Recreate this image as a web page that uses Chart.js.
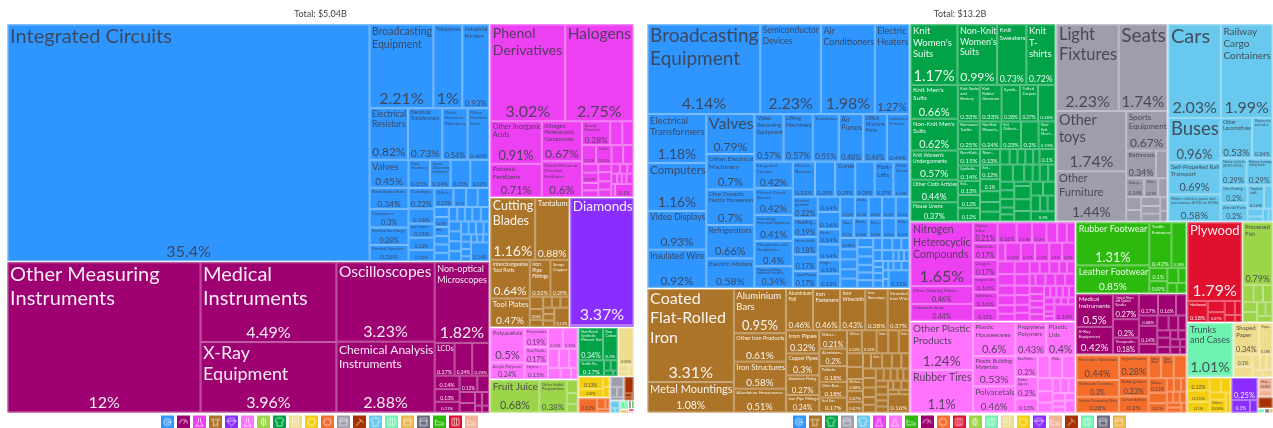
<!DOCTYPE html>
<html>
<head>
<meta charset="utf-8">
<title>Export treemaps</title>
<script src="https://cdn.jsdelivr.net/npm/chart.js@4/dist/chart.umd.js"></script>
<style>
  html, body { margin: 0; background: #fff; overflow: hidden; }
  #page { position: relative; width: 1273px; height: 428px; overflow: hidden; }
  canvas { position: absolute; top: 0; }
</style>
</head>
<body>
<div id="page">
  <canvas id="left-tree" style="left:7px"></canvas>
  <canvas id="right-tree" style="left:647px"></canvas>
</div>
<script>
const leftTotal = "Total: $5.04B";
const rightTotal = "Total: $13.2B";

// left panel, share of total in % (small cells are estimates)
const leftMachinesLabels = ["Integrated Circuits", "Broadcasting Equipment", "Telephones", "Industrial Printers", "Electrical Resistors", "Electrical Transformers", "Other Electrical Machinery", "Office Machine Parts", "Valves", "Blank Audio Media", "Computers", "Electrical Interchange", "Electrical Capacitors", "Dairy Machinery", "Liquid Dispensing Machines", "", "", "Centrifuges", "Video Recording...", "Gas Turbines", "Metalworking...", "Semiconducting...", "Other...", "", "", "", "", "Lifting...", "Ext..."];
const leftMachinesValues = [35.4, 2.21, 1, 0.93, 0.82, 0.73, 0.54, 0.46, 0.45, 0.34, 0.3, 0.28, 0.26, 0.25, 0.24, 0.23, 0.22, 0.22, 0.16, 0.15, 0.13, 0.12, 0.15, 0.1, 0.09, 0.09, 0.06, 0.06, 0.055, 0.05, 0.05, 0.05, 0.05, 0.045, 0.045, 0.05, 0.05, 0.05, 0.05, 0.05, 0.05, 0.04, 0.04, 0.04, 0.03, 0.03, 0.03, 0.03, 0.02, 0.02, 0.02, 0.02, 0.14];
const leftInstrumentsLabels = ["Other Measuring Instruments", "Medical Instruments", "X-Ray Equipment", "Oscilloscopes", "Chemical Analysis Instruments", "Non-optical Microscopes", "LCDs", "", "", "Optical Fibers...", "Textile Testing...", "Mirrors and..."];
const leftInstrumentsValues = [12, 4.49, 3.96, 3.23, 2.88, 1.82, 0.27, 0.24, 0.23, 0.14, 0.13, 0.11, 0.12, 0.08, 0.07, 0.06, 0.04, 0.04, 0.02, 0.02];
const leftChemicalsLabels = ["Phenol Derivatives", "Halogens", "Other Inorganic Acids", "Potassic Fertilizers", "Nitrogen Heterocyclic Compounds", "Mixed Mineral or Chemical Fertilizers", "Beauty Products", "", "", "", "Other...", "", "", "", "Inl..."];
const leftChemicalsValues = [3.02, 2.75, 0.91, 0.71, 0.67, 0.6, 0.28, 0.12, 0.11, 0.11, 0.12, 0.09, 0.08, 0.06, 0.07, 0.05, 0.045, 0.045, 0.05, 0.045, 0.04, 0.035, 0.03, 0.025, 0.025, 0.02, 0.02, 0.03, 0.02, 0.1];
const leftMetalsLabels = ["Cutting Blades", "Tantalum", "Interchangeable Tool Parts", "Tool Plates", "Iron Pipe Fittings", "Scrap Copper", "", "Temp..."];
const leftMetalsValues = [1.16, 0.88, 0.64, 0.47, 0.32, 0.29, 0.07, 0.06, 0.04, 0.04, 0.04, 0.04, 0.03, 0.03, 0.03, 0.12];
const leftPreciousLabels = ["Diamonds"];
const leftPreciousValues = [3.37, 0.05];
const leftPlasticsLabels = ["Polyacetals", "Acrylic Polymers", "Polyamides", "Raw Plastic...", "Ethylene...", "", "", "Other..."];
const leftPlasticsValues = [0.5, 0.24, 0.19, 0.17, 0.15, 0.13, 0.13, 0.09, 0.08, 0.07, 0.06, 0.05, 0.03];
const leftVegetableLabels = ["Fruit Juice", "Other Edible Preparations"];
const leftVegetableValues = [0.68, 0.38, 0.06, 0.05, 0.04];
const leftTextilesLabels = ["Non-Retail Synthetic Filament Yarn", "Raw Cotton", "Textile Fa..."];
const leftTextilesValues = [0.34, 0.2, 0.17, 0.03, 0.03, 0.02, 0.01];
const leftPaperValues = [0.25, 0.03, 0.02, 0.02];
const leftFoodstuffsLabels = ["Citrus", "Soybean..."];
const leftFoodstuffsValues = [0.13, 0.09, 0.03, 0.03];
const leftStoneValues = [0.12, 0.04, 0.02, 0.02];
const leftMiscValues = [0.06, 0.03, 0.03, 0.02];
const leftMineralValues = [0.07, 0.015, 0.01, 0.005];
const leftTransportValues = [0.03, 0.01, 0.01];
const leftHidesValues = [0.02, 0.01];
const leftFatsValues = [0.012];
const leftArtsValues = [0.01];
const leftFootwearValues = [0.008];
const leftWoodValues = [0.006];
const leftAnimalValues = [0.004];

// right panel
const rightMachinesLabels = ["Broadcasting Equipment", "Semiconductor Devices", "Air Conditioners", "Electric Heaters", "Electrical Transformers", "Computers", "Video Displays", "Insulated Wire", "Valves", "Other Electrical Machinery", "Other Domestic Electric Housewares", "Refrigerators", "Electric Motors", "Video Recording Equipment", "Lifting Machinery", "Telephones", "Air Pumps", "Office Machine Parts", "Industrial Printers", "Integrated Circuits", "Printed Circuit Boards", "Low-voltage Protection Equipment", "Microphones and Headphones", "Machinery Having Individual Functions", "Electric Batteries", "", "Cranes", "", "Fork-Lifts", "Metal Stands", "Electrical Ignitions", "Heating...", "Household...", "Vacuum Cleaners", "Liquid Pumps", "Other Heating...", "", "Electr...", "", "Sewgn...", "", "", "Audio...", "Electrical...", "Navigation", "Electrical...", "Gas...", "Blank...", "Ret...", "", "Radio...", "Boat..."];
const rightMachinesValues = [4.14, 2.23, 1.98, 1.27, 1.18, 1.16, 0.93, 0.92, 0.79, 0.7, 0.7, 0.66, 0.58, 0.57, 0.57, 0.51, 0.48, 0.46, 0.44, 0.42, 0.42, 0.41, 0.4, 0.34, 0.32, 0.29, 0.29, 0.28, 0.27, 0.23, 0.22, 0.19, 0.18, 0.17, 0.17, 0.14, 0.16, 0.14, 0.14, 0.13, 0.13, 0.13, 0.12, 0.12, 0.12, 0.12, 0.11, 0.12, 0.11, 0.11, 0.11, 0.08, 0.07, 0.07, 0.065, 0.065, 0.06, 0.06, 0.055, 0.05, 0.05, 0.05, 0.045, 0.05, 0.045, 0.04, 0.04, 0.05, 0.024, 0.024, 0.024, 0.024, 0.024, 0.03, 0.03, 0.02, 0.02, 0.03, 0.03, 0.02, 0.02, 0.15];
const rightMetalsLabels = ["Coated Flat-Rolled Iron", "Metal Mountings", "Aluminium Bars", "Other Iron Products", "Iron Structures", "Aluminium Housewares", "Aluminium Foil", "Iron Fasteners", "Iron Wirecloth", "Iron Stovetops", "Stranded Iron Wire", "Iron Pipes", "Copper Pipes", "Aluminium Plating", "Iron Pipe Fittings", "Other...", "Aluminium...", "Padlocks", "Other Base...", "Steel Bars", "Other...", "", "Iron...", "", "Iron...", "", "", "Kitchen...", "Copper...", "Tanuluma...", "Cobi...", "Iron...", "", "Bolts...", "Tool..."];
const rightMetalsValues = [3.31, 1.08, 0.95, 0.61, 0.58, 0.51, 0.46, 0.46, 0.43, 0.38, 0.37, 0.32, 0.3, 0.27, 0.24, 0.21, 0.2, 0.18, 0.18, 0.17, 0.14, 0.14, 0.11, 0.1, 0.1, 0.09, 0.08, 0.08, 0.07, 0.07, 0.05, 0.07, 0.06, 0.06, 0.05, 0.05, 0.05, 0.05, 0.04, 0.04, 0.04, 0.035, 0.035, 0.03, 0.03, 0.03, 0.04, 0.03, 0.03, 0.03, 0.02, 0.03, 0.03, 0.02, 0.02, 0.16];
const rightTextilesLabels = ["Knit Women's Suits", "Non-Knit Women's Suits", "Knit Sweaters", "Knit T-shirts", "Knit Men's Suits", "Non-Knit Men's Suits", "Knit Women's Undergarments", "Other Cloth Articles", "House Linens", "Knit Socks and Hosiery", "Knit Babies' Garments", "Synth...", "Tufted Carpets", "", "Non-woven Textiles", "Non-Knit Women's...", "Knit Children's...", "", "Non-Knit Men's...", "Non-Knit...", "Synthetic...", "Knit...", "Other...", "Knit Active...", "Non-...", "Knit...", "", "", "", "", "Other"];
const rightTextilesValues = [1.17, 0.99, 0.73, 0.72, 0.66, 0.62, 0.57, 0.44, 0.37, 0.33, 0.33, 0.28, 0.27, 0.26, 0.25, 0.24, 0.23, 0.2, 0.19, 0.15, 0.14, 0.13, 0.12, 0.12, 0.13, 0.12, 0.1, 0.09, 0.08, 0.08, 0.06, 0.05, 0.05, 0.05, 0.04, 0.1, 0.09, 0.08, 0.06, 0.05, 0.06, 0.05, 0.05, 0.05, 0.05, 0.04, 0.04, 0.03, 0.09, 0.08, 0.07, 0.07, 0.07, 0.06, 0.05, 0.05, 0.1];
const rightMiscLabels = ["Light Fixtures", "Seats", "Other toys", "Other Furniture", "Sports Equipment", "Bathroom", "", "Dairy...", "Other..."];
const rightMiscValues = [2.23, 1.74, 1.74, 1.44, 0.67, 0.34, 0.13, 0.14, 0.11, 0.07, 0.08, 0.07, 0.07, 0.06, 0.06, 0.04, 0.03];
const rightTransportLabels = ["Cars", "Railway Cargo Containers", "Buses", "Self-Propelled Rail Transport", "Motor vehicles; parts and accessories (8701 to 8705)", "Other Locomotives", "Motorcycles and cycles", "Motor vehicles (8701-8705)", "Railway, tramway rolling stock", "Other Floating...", "Aircraft Parts", "Tractors and...", "Baby...", "Tr..."];
const rightTransportValues = [2.03, 1.99, 0.96, 0.69, 0.58, 0.53, 0.34, 0.29, 0.29, 0.2, 0.2, 0.16, 0.08, 0.05, 0.03, 0.03, 0.02];
const rightChemicalsLabels = ["Nitrogen Heterocyclic Compounds", "Other Coloring Matter", "Carboxyclic Acids", "Organic Sulfur", "Industrial...", "Oxygen...", "Inorganic Salts", "Sulfonates...", "Peptides", "", "Pesticides", "Vitamins"];
const rightChemicalsValues = [1.65, 0.46, 0.44, 0.21, 0.17, 0.17, 0.16, 0.16, 0.13, 0.16, 0.13, 0.12, 0.09, 0.08, 0.07, 0.06, 0.12, 0.11, 0.11, 0.1, 0.1, 0.09, 0.08, 0.07, 0.07, 0.06, 0.05, 0.08, 0.07, 0.06, 0.06, 0.05, 0.05, 0.05, 0.05, 0.05, 0.04, 0.04, 0.03, 0.05, 0.05, 0.05, 0.05, 0.05, 0.04, 0.04, 0.04, 0.04, 0.03, 0.03, 0.03, 0.03, 0.03, 0.03, 0.03, 0.02, 0.02, 0.02, 0.02, 0.02, 0.14];
const rightPlasticsLabels = ["Other Plastic Products", "Rubber Tires", "Plastic Housewares", "Plastic Building Materials", "Polyacetals", "Propylene Polymers", "Plastic Lids", "Raw Plastic...", "Rubber Apparel", "", "", "Plasti...", "Other..."];
const rightPlasticsValues = [1.24, 1.1, 0.6, 0.53, 0.46, 0.43, 0.4, 0.2, 0.2, 0.13, 0.11, 0.12, 0.12, 0.08, 0.07, 0.06, 0.05, 0.05, 0.04, 0.04, 0.03, 0.03, 0.03, 0.05];
const rightFootwearLabels = ["Rubber Footwear", "Leather Footwear", "Textile Footwear", "Artificial...", "Waterpr...", "Other..."];
const rightFootwearValues = [1.31, 0.85, 0.42, 0.28, 0.1, 0.09, 0.07, 0.05, 0.04, 0.04];
const rightInstrumentsLabels = ["Medical Instruments", "X-Ray Equipment", "Optical Fibers and Optical Bundles", "Other Measuring...", "Therapeutic...", "", "", "", "LEDs", "", ""];
const rightInstrumentsValues = [0.5, 0.42, 0.27, 0.2, 0.18, 0.17, 0.16, 0.09, 0.08, 0.14, 0.08, 0.07, 0.06, 0.05, 0.04, 0.05, 0.04, 0.03, 0.03, 0.03, 0.03, 0.02, 0.02];
const rightStoneLabels = ["Porcelain Tableware", "Bathroom Ceramics", "Interior Decorating Glass", "Unglazed Ceramics", "Building Stone", "Cement Articles", "Safety Glass", "Glass Bottles", "Other...", "Glass...", "", "Insulating..."];
const rightStoneValues = [0.44, 0.3, 0.28, 0.28, 0.23, 0.2, 0.12, 0.12, 0.12, 0.11, 0.08, 0.07, 0.04, 0.04, 0.03, 0.03, 0.03, 0.03, 0.03, 0.03, 0.02];
const rightWoodLabels = ["Plywood", "Hardwood", "", "Wood..."];
const rightWoodValues = [1.79, 0.18, 0.08, 0.07, 0.06, 0.04, 0.03, 0.02];
const rightVegetableLabels = ["Processed Fish"];
const rightVegetableValues = [0.79, 0.08, 0.07, 0.07, 0.06, 0.06, 0.05, 0.04, 0.04];
const rightHidesLabels = ["Trunks and Cases"];
const rightHidesValues = [1.01, 0.02];
const rightPaperLabels = ["Shaped Paper", "Paper...", "Knit...", ""];
const rightPaperValues = [0.34, 0.18, 0.1, 0.08, 0.05, 0.04, 0.04, 0.03, 0.03];
const rightFoodstuffsLabels = ["Dried Fruit", "Popped...", "Sunflower...", "", "", "", "Other..."];
const rightFoodstuffsValues = [0.12, 0.11, 0.1, 0.07, 0.06, 0.05, 0.09, 0.04];
const rightPreciousValues = [0.25, 0.1, 0.04];
const rightAnimalLabels = ["Hat..."];
const rightAnimalValues = [0.08, 0.04];
const rightMineralValues = [0.07];
const rightFatsValues = [0.012];
const rightArtsValues = [0.01];
const rightGoldValues = [0.006];

const sectionColors = {
  machines: "#2f96ff", instruments: "#9e0071", chemicals: "#ed40f2", metals: "#ab7428",
  precious: "#892eff", plastics: "#ff73ff", vegetable: "#9cd44a", textiles: "#02a347",
  paper: "#eddd8d", foodstuffs: "#f4ce0f", stone: "#f46d2a", misc: "#9d9dab",
  mineral: "#a53200", transport: "#69c8ed", hides: "#6df2b0", fats: "#ecb444",
  arts: "#6b6b7e", footwear: "#2cba0f", wood: "#e0102f", animal: "#f2b398"
};
const lightText = ["instruments", "metals", "precious", "textiles", "footwear", "wood", "mineral", "arts"];
const sectionGlyphs = {
  machines: "gear", instruments: "gauge", chemicals: "flask", metals: "anvil", precious: "gem",
  plastics: "flask", vegetable: "leaf", textiles: "shirt", paper: "page", foodstuffs: "coin",
  stone: "coin", misc: "box", mineral: "hammer", transport: "shirt", hides: "bars", fats: "box",
  arts: "box", footwear: "shoe", wood: "bars", animal: "shoe"
};

const leftSections = [
  ["machines", leftMachinesValues, leftMachinesLabels], ["instruments", leftInstrumentsValues, leftInstrumentsLabels],
  ["chemicals", leftChemicalsValues, leftChemicalsLabels], ["metals", leftMetalsValues, leftMetalsLabels],
  ["precious", leftPreciousValues, leftPreciousLabels], ["plastics", leftPlasticsValues, leftPlasticsLabels],
  ["vegetable", leftVegetableValues, leftVegetableLabels], ["textiles", leftTextilesValues, leftTextilesLabels],
  ["paper", leftPaperValues], ["foodstuffs", leftFoodstuffsValues, leftFoodstuffsLabels], ["stone", leftStoneValues],
  ["misc", leftMiscValues], ["mineral", leftMineralValues], ["transport", leftTransportValues], ["hides", leftHidesValues],
  ["fats", leftFatsValues], ["arts", leftArtsValues], ["footwear", leftFootwearValues], ["wood", leftWoodValues], ["animal", leftAnimalValues]
];
const rightSections = [
  ["machines", rightMachinesValues, rightMachinesLabels], ["metals", rightMetalsValues, rightMetalsLabels],
  ["textiles", rightTextilesValues, rightTextilesLabels], ["misc", rightMiscValues, rightMiscLabels],
  ["transport", rightTransportValues, rightTransportLabels], ["chemicals", rightChemicalsValues, rightChemicalsLabels],
  ["plastics", rightPlasticsValues, rightPlasticsLabels], ["footwear", rightFootwearValues, rightFootwearLabels],
  ["instruments", rightInstrumentsValues, rightInstrumentsLabels], ["stone", rightStoneValues, rightStoneLabels],
  ["wood", rightWoodValues, rightWoodLabels], ["vegetable", rightVegetableValues, rightVegetableLabels],
  ["hides", rightHidesValues, rightHidesLabels], ["paper", rightPaperValues, rightPaperLabels],
  ["foodstuffs", rightFoodstuffsValues, rightFoodstuffsLabels], ["precious", rightPreciousValues],
  ["animal", rightAnimalValues, rightAnimalLabels], ["mineral", rightMineralValues], ["hides", rightFatsValues],
  ["arts", rightArtsValues], ["fats", rightGoldValues]
];

const FONT = "Lato, 'Noto Sans', sans-serif";
const PHI = (1 + Math.sqrt(5)) / 2;
const sum = (arr) => arr.reduce((a, b) => a + b, 0);

// squarified tiling, same steps as d3's treemapSquarify
function squarify(values, x0, y0, x1, y1) {
  const rects = [];
  const n = values.length;
  let value = sum(values), i0 = 0, i1 = 0;
  while (i0 < n) {
    const dx = x1 - x0, dy = y1 - y0;
    let sumValue = values[i1++], minValue = sumValue, maxValue = sumValue;
    const alpha = Math.max(dy / dx, dx / dy) / (value * PHI);
    let beta = sumValue * sumValue * alpha;
    let minRatio = Math.max(maxValue / beta, beta / minValue);
    for (; i1 < n; ++i1) {
      const v = values[i1];
      sumValue += v;
      const lo = Math.min(minValue, v), hi = Math.max(maxValue, v);
      beta = sumValue * sumValue * alpha;
      const ratio = Math.max(hi / beta, beta / lo);
      if (ratio > minRatio) { sumValue -= v; break; }
      minValue = lo; maxValue = hi; minRatio = ratio;
    }
    let pos, k = sumValue || 1;
    if (dx < dy) {
      const bottom = value ? y0 + dy * sumValue / value : y1;
      pos = x0;
      for (let i = i0; i < i1; i++) {
        const next = pos + (x1 - x0) * values[i] / k;
        rects[i] = { x0: pos, y0: y0, x1: next, y1: bottom };
        pos = next;
      }
      y0 = bottom;
    } else {
      const right = value ? x0 + dx * sumValue / value : x1;
      pos = y0;
      for (let i = i0; i < i1; i++) {
        const next = pos + (y1 - y0) * values[i] / k;
        rects[i] = { x0: x0, y0: pos, x1: right, y1: next };
        pos = next;
      }
      x0 = right;
    }
    value -= sumValue;
    i0 = i1;
  }
  return rects;
}

function buildCells(sections, width, height) {
  const cells = [];
  const tops = squarify(sections.map((s) => sum(s[1])), 0, 0, width, height);
  sections.forEach((s, g) => {
    const t = tops[g];
    const inner = squarify(s[1], t.x0 + 0.6, t.y0 + 0.6, t.x1 - 0.6, t.y1 - 0.6);
    inner.forEach((r, i) => cells.push({ ...r, value: s[1][i], label: (s[2] || [])[i] || "", section: s[0] }));
  });
  return cells;
}

function shareText(v) {
  return parseFloat(v.toPrecision(3)) + "%";
}

// wrap on spaces, a hyphen only splits a word that is too long for the cell
function wrapLabel(ctx, text, maxWidth) {
  const parts = [];
  text.split(" ").forEach((word) => {
    if (word.includes("-") && ctx.measureText(word).width > maxWidth) {
      const bits = word.split("-");
      bits.forEach((b, i) => parts.push({ t: i < bits.length - 1 ? b + "-" : b, glue: i > 0 }));
    } else parts.push({ t: word, glue: false });
  });
  const lines = [];
  let line = "";
  parts.forEach((p) => {
    const candidate = line + (line && !p.glue ? " " : "") + p.t;
    if (line && ctx.measureText(candidate).width > maxWidth) { lines.push(line); line = p.t; }
    else line = candidate;
  });
  lines.push(line);
  return lines;
}

function fitLabel(ctx, text, w, room) {
  for (let size = 20; size >= 3; size -= 0.5) {
    ctx.font = size + "px " + FONT;
    const lines = wrapLabel(ctx, text, w);
    const widest = Math.max(...lines.map((l) => ctx.measureText(l).width));
    if (widest <= w && lines.length * size * 1.2 <= room) return { size, lines };
  }
  return null;
}

class TreeCell extends Chart.Element {
  static id = "treecell";
  static defaults = {};
  draw(ctx) {
    const { left, top, right, bottom, fill, edge, ink, label, value } = this;
    const w = right - left, h = bottom - top;
    ctx.save();
    ctx.fillStyle = fill;
    ctx.fillRect(left, top, w, h);
    ctx.strokeStyle = edge;
    ctx.lineWidth = 1;
    ctx.strokeRect(left + 0.5, top + 0.5, Math.max(w - 1, 0), Math.max(h - 1, 0));
    const text = shareText(value);
    const pct = Math.min(16, (w - 4) / (text.length * 0.58), h * 0.4, 5 + h * 0.18);
    const showPct = (label || value >= 0.1) && pct >= 3.2;
    ctx.fillStyle = ink;
    if (label) {
      const share = Math.min(0.62, Math.max(0.4, 0.35 + h / 250));
      const room = Math.min(h * share, h - 3 - (showPct ? pct * 1.3 : 0));
      const fit = fitLabel(ctx, label, w - 3, room);
      if (fit) {
        ctx.font = fit.size + "px " + FONT;
        ctx.textAlign = "left";
        ctx.textBaseline = "top";
        fit.lines.forEach((l, i) => ctx.fillText(l, left + 2.5, top + 2 + i * fit.size * 1.2));
      }
    }
    if (showPct) {
      ctx.font = pct + "px " + FONT;
      ctx.textAlign = "center";
      ctx.textBaseline = "alphabetic";
      ctx.fillText(text, left + w / 2, bottom - Math.max(2, pct * 0.28));
    }
    ctx.restore();
  }
}

class TreemapController extends Chart.DatasetController {
  static id = "treemap";
  static defaults = { datasetElementType: false, dataElementType: "treecell" };
  update() {
    const meta = this._cachedMeta;
    const { xScale, yScale } = meta;
    const cells = this.getDataset().data;
    meta.data.forEach((el, i) => {
      const c = cells[i];
      Object.assign(el, {
        left: xScale.getPixelForValue(c.x0), right: xScale.getPixelForValue(c.x1),
        top: yScale.getPixelForValue(c.y0), bottom: yScale.getPixelForValue(c.y1),
        label: c.label, value: c.value,
        fill: sectionColors[c.section],
        edge: lighten(sectionColors[c.section]),
        ink: lightText.includes(c.section) ? "rgba(255,255,255,0.92)" : "rgba(62,62,72,0.88)"
      });
    });
  }
}
Chart.register(TreeCell, TreemapController);

function lighten(hex) {
  const n = parseInt(hex.slice(1), 16);
  const mix = (c) => Math.round(c + (255 - c) * 0.38);
  return `rgb(${mix(n >> 16)},${mix((n >> 8) & 255)},${mix(n & 255)})`;
}

function drawGlyph(c, kind) {
  c.strokeStyle = "rgba(255,255,255,0.85)";
  c.lineWidth = 0.8;
  c.beginPath();
  if (kind === "gear" || kind === "coin") { c.arc(6.5, 6.5, 3.6, 0, Math.PI * 2); if (kind === "gear") c.arc(6.5, 6.5, 1.4, 0, Math.PI * 2); }
  else if (kind === "gauge") { c.arc(6.5, 8, 4, Math.PI, 0); c.moveTo(6.5, 8); c.lineTo(8.5, 5); }
  else if (kind === "flask") { c.moveTo(5.5, 2.5); c.lineTo(5.5, 6); c.lineTo(3, 10.5); c.lineTo(10, 10.5); c.lineTo(7.5, 6); c.lineTo(7.5, 2.5); }
  else if (kind === "anvil") { c.moveTo(2.5, 4); c.lineTo(10.5, 4); c.lineTo(8, 7); c.lineTo(9, 10); c.lineTo(4, 10); c.lineTo(5, 7); c.closePath(); }
  else if (kind === "gem") { c.moveTo(4, 3); c.lineTo(9, 3); c.lineTo(11, 5.5); c.lineTo(6.5, 10.5); c.lineTo(2, 5.5); c.closePath(); c.moveTo(2, 5.5); c.lineTo(11, 5.5); }
  else if (kind === "leaf") { c.moveTo(6.5, 2); c.lineTo(6.5, 11); c.moveTo(4.5, 4); c.lineTo(8.5, 4); c.lineTo(8.5, 9); c.lineTo(4.5, 9); c.closePath(); }
  else if (kind === "shirt") { c.moveTo(4.5, 2.5); c.lineTo(2, 5); c.lineTo(3.5, 6.5); c.lineTo(4, 6); c.lineTo(4, 10.5); c.lineTo(9, 10.5); c.lineTo(9, 6); c.lineTo(9.5, 6.5); c.lineTo(11, 5); c.lineTo(8.5, 2.5); c.closePath(); }
  else if (kind === "page") { c.rect(3.5, 2.5, 6, 8); c.moveTo(5, 5); c.lineTo(8, 5); c.moveTo(5, 7); c.lineTo(8, 7); }
  else if (kind === "box") { c.rect(3, 3, 7, 7); c.moveTo(3, 5.5); c.lineTo(10, 5.5); }
  else if (kind === "hammer") { c.moveTo(3, 10.5); c.lineTo(8, 5); c.moveTo(6, 3); c.lineTo(10.5, 7); }
  else if (kind === "bars") { c.rect(3, 3, 7, 7); c.moveTo(5.3, 3); c.lineTo(5.3, 10); c.moveTo(7.6, 3); c.lineTo(7.6, 10); }
  else { c.moveTo(2.5, 4.5); c.lineTo(5.5, 6.5); c.lineTo(10.5, 7.5); c.lineTo(10.5, 9.5); c.lineTo(2.5, 9.5); c.closePath(); }
  c.stroke();
}

// the legend centres its point image, extra clear rows on top push the square down
function sectionIcon(section) {
  const icon = document.createElement("canvas");
  icon.width = 13; icon.height = 25;
  const c = icon.getContext("2d");
  c.translate(0, 12);
  c.fillStyle = sectionColors[section];
  c.fillRect(0, 0, 13, 13);
  drawGlyph(c, sectionGlyphs[section]);
  return icon;
}

function drawTree(canvasId, title, sections, canvasWidth) {
  const canvas = document.getElementById(canvasId);
  canvas.width = canvasWidth;
  canvas.height = 428;
  canvas.style.width = canvasWidth + "px";
  canvas.style.height = "428px";
  const treeHeight = 390;
  return new Chart(canvas, {
    type: "treemap",
    data: { datasets: [{ data: buildCells(sections, canvasWidth, treeHeight), parsing: false }] },
    options: {
      responsive: false,
      animation: false,
      events: [],
      layout: { padding: 0 },
      scales: {
        x: { type: "linear", display: false, min: 0, max: canvasWidth },
        y: { type: "linear", display: false, min: 0, max: treeHeight, reverse: true }
      },
      plugins: {
        tooltip: { enabled: false },
        title: { display: true, text: title, color: "#444", font: { family: FONT, size: 9, weight: "normal" }, padding: { top: 9, bottom: 4 } },
        legend: {
          display: true,
          position: "bottom",
          labels: {
            usePointStyle: true,
            pointStyleWidth: 13,
            boxHeight: 9,
            padding: 1,
            font: { size: 4 },
            generateLabels: () => sections.map((s) => ({
              text: "", pointStyle: sectionIcon(s[0]), fillStyle: sectionColors[s[0]], lineWidth: 0, hidden: false
            }))
          }
        }
      }
    }
  });
}

drawTree("left-tree", leftTotal, leftSections, 627);
drawTree("right-tree", rightTotal, rightSections, 626);
</script>
</body>
</html>
